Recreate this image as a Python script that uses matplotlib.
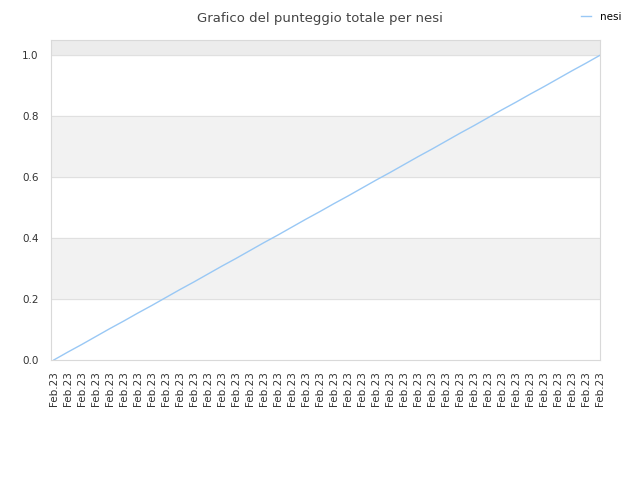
import matplotlib
matplotlib.use('Agg')
import matplotlib.pyplot as plt
import numpy as np

# dati
labels = ['Feb.23'] * 40
punteggio = [0.000, 0.026, 0.051, 0.077, 0.103, 0.128, 0.154, 0.179, 0.205, 0.231,
             0.256, 0.282, 0.308, 0.333, 0.359, 0.385, 0.410, 0.436, 0.462, 0.487,
             0.513, 0.538, 0.564, 0.590, 0.615, 0.641, 0.667, 0.692, 0.718, 0.744,
             0.769, 0.795, 0.821, 0.846, 0.872, 0.897, 0.923, 0.949, 0.974, 1.000]
serie = 'nesi'

fig = plt.figure(figsize=(6.4, 4.8), dpi=100)
ax = fig.add_axes([51 / 640, 120 / 480, 549 / 640, 320 / 480])

x = np.arange(len(punteggio))
ax.set_xlim(-0.2, len(punteggio) - 1)
ax.set_ylim(0, 1.05)

# bande alternate
ax.axhspan(0.2, 0.4, color='#f2f2f2', zorder=0)
ax.axhspan(0.6, 0.8, color='#f2f2f2', zorder=0)
ax.axhspan(1.0, 1.05, color='#ececec', zorder=0)
for yv in [0.2, 0.4, 0.6, 0.8, 1.0]:
    ax.axhline(yv, color='#e0e0e0', lw=0.8, zorder=1)

ax.plot(x, punteggio, color='#99c8f5', lw=1.0, label=serie, zorder=2)

ax.set_xticks(x)
ax.set_xticklabels(labels, rotation=90, fontsize=7.5, color='#333333')
ax.set_yticks([0.0, 0.2, 0.4, 0.6, 0.8, 1.0])
ax.set_yticklabels(['0.0', '0.2', '0.4', '0.6', '0.8', '1.0'], fontsize=7.5, color='#333333')
ax.tick_params(axis='x', length=0, pad=8)
ax.tick_params(axis='y', length=0, pad=9)

for s in ax.spines.values():
    s.set_color('#d9d9d9')
    s.set_linewidth(0.8)

fig.text(0.5, 0.975, 'Grafico del punteggio totale per nesi', ha='center', va='top',
         fontsize=9.5, color='#444444')
fig.legend(loc='upper right', bbox_to_anchor=(0.985, 0.995), frameon=False,
           fontsize=7.5, handlelength=1.0, handletextpad=0.8)

fig.savefig('out.png', dpi=100, facecolor='white')
